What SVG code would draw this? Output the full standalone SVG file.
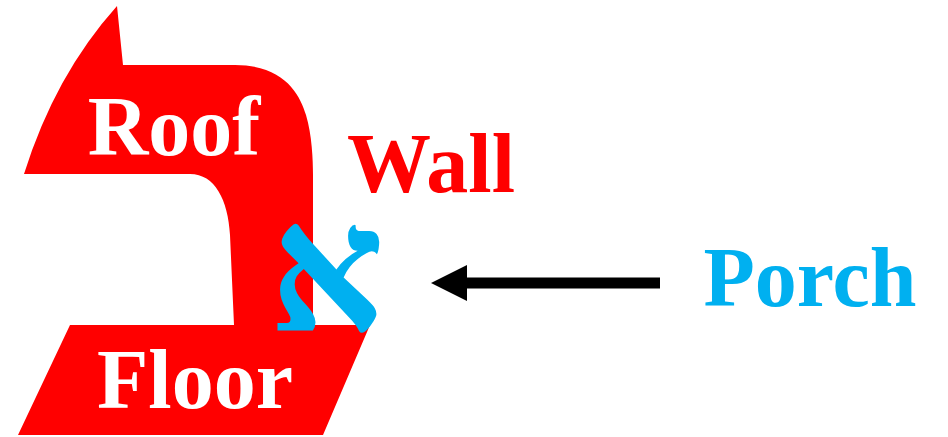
<svg xmlns="http://www.w3.org/2000/svg" width="948" height="437" viewBox="0 0 948 437">
<style>
.red{fill:#ff0000}
.lbl{font-family:"Liberation Serif","Times New Roman",serif;font-weight:bold;font-size:84px}
.white{fill:#ffffff}
.blue{fill:#00b0f0}
</style>
<defs>
<marker id="ah" markerWidth="36" markerHeight="36" refX="0" refY="18" orient="auto" markerUnits="userSpaceOnUse" viewBox="0 0 36 36">
<path d="M0,0 L36,18 L0,36 Z" fill="#000"/>
</marker>
</defs>
<g id="house">
<path class="red" d="M117,6 L123,65 L235,65 C285,65 300,95 306,115 C312,135 313,160 313,175 L313,325 L370,325 L323,435 L18,435 L70,325 L234,325 L230,235 C228,200 215,174 190,174 L24,174 Q55,75 117,6 Z"/>
<text class="lbl white" x="174" y="155" text-anchor="middle">Roof</text>
<text class="lbl white" x="195" y="408" text-anchor="middle">Floor</text>
</g>
<g id="wall">
<text class="lbl red" x="431" y="192" text-anchor="middle">Wall</text>
</g>
<g id="aleph">
<text class="lbl blue" x="327" y="331" text-anchor="middle" style="font-size:180px">א</text>
</g>
<g id="porch">
<text class="lbl blue" x="810" y="306" text-anchor="middle">Porch</text>
</g>
<g id="connectors">
<line x1="660" y1="283" x2="467" y2="283" stroke="#000" stroke-width="11" marker-end="url(#ah)"/>
</g>
</svg>
